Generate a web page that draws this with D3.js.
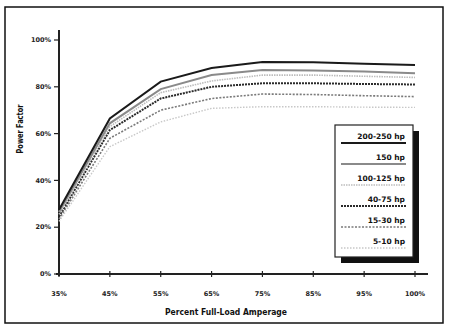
<!DOCTYPE html>
<html><head><meta charset="utf-8">
<script src="https://cdn.jsdelivr.net/npm/d3@7"></script>
<style>body{margin:0;background:#fff}svg{display:block}text{font-family:"DejaVu Sans",sans-serif}</style>
</head><body><svg id="c" width="450" height="330"></svg>
<script>
const categories = ["35%","45%","55%","65%","75%","85%","95%","100%"];
const yTicks = [0,20,40,60,80,100];
const seriesNames = ["200-250 hp","150 hp","100-125 hp","40-75 hp","15-30 hp","5-10 hp"];
const s200_250 = [27.5,66.5,82.2,88,90.6,90.5,89.8,89.3];
const s150     = [26.5,64.4,79,85,87.2,87,86.5,85.8];
const s100_125 = [25.5,63,77.5,82.5,85,85,84.5,84];
const s40_75   = [24.5,61.5,75,80,81.5,81.5,81.2,81];
const s15_30   = [23.5,58,70,75,76.9,76.7,76.2,75.8];
const s5_10    = [22.5,54.4,65,70.8,71.5,71.5,71.3,71.2];
const seriesValues = [s200_250,s150,s100_125,s40_75,s15_30,s5_10];
const styles = [
  {c:"#1a1a1a",w:2,d:null},
  {c:"#8a8a8a",w:2,d:null},
  {c:"#bdbdbd",w:1.6,d:"1.5,1"},
  {c:"#2a2a2a",w:2,d:"2,1"},
  {c:"#7a7a7a",w:1.6,d:"2,1.5"},
  {c:"#c8c8c8",w:1.4,d:"1.5,1.5"}
];
const svg = d3.select("#c");
svg.append("rect").attr("x",5).attr("y",7).attr("width",438).attr("height",316)
  .attr("fill","none").attr("stroke","#111").attr("stroke-width",1.5);
const x = d3.scalePoint().domain(categories).range([59,415]);
const y = d3.scaleLinear().domain([0,100]).range([274,40]);
// axes
svg.append("line").attr("x1",59).attr("x2",59).attr("y1",30).attr("y2",276).attr("stroke","#222").attr("stroke-width",2);
svg.append("line").attr("x1",56).attr("x2",428).attr("y1",274).attr("y2",274).attr("stroke","#222").attr("stroke-width",2);
const yAxis = svg.append("g");
yTicks.forEach(t=>{
  yAxis.append("line").attr("x1",54).attr("x2",59).attr("y1",y(t)).attr("y2",y(t)).attr("stroke","#222").attr("stroke-width",1.2);
  yAxis.append("text").attr("x",51).attr("y",y(t)).attr("dy","0.35em").attr("text-anchor","end")
    .attr("font-size",6.5).attr("font-weight","bold").attr("fill","#222").text(t+"%");
});
const xAxis = svg.append("g");
categories.forEach(c=>{
  xAxis.append("line").attr("x1",x(c)).attr("x2",x(c)).attr("y1",271).attr("y2",277).attr("stroke","#222").attr("stroke-width",1.2);
  xAxis.append("text").attr("x",x(c)).attr("y",294).attr("dy","0.35em").attr("text-anchor","middle")
    .attr("font-size",6.5).attr("font-weight","bold").attr("fill","#222").text(c);
});
svg.append("text").attr("x",226).attr("y",312).attr("dy","0.35em").attr("text-anchor","middle")
  .attr("font-size",9).attr("font-weight","bold").attr("fill","#111")
  .attr("textLength",122).attr("lengthAdjust","spacingAndGlyphs").text("Percent Full-Load Amperage");
svg.append("text").attr("transform","translate(20,129) rotate(-90)").attr("dy","0.35em").attr("text-anchor","middle")
  .attr("font-size",9).attr("font-weight","bold").attr("fill","#111")
  .attr("textLength",49).attr("lengthAdjust","spacingAndGlyphs").text("Power Factor");
// lines
const line = d3.line().x((d,i)=>x(categories[i])).y(d=>y(d));
for (let k=seriesValues.length-1;k>=0;k--){
  const s=styles[k];
  svg.append("path").datum(seriesValues[k]).attr("d",line).attr("fill","none")
    .attr("stroke",s.c).attr("stroke-width",s.w).attr("stroke-dasharray",s.d);
}
// legend
const lg = svg.append("g");
lg.append("rect").attr("x",341).attr("y",131).attr("width",78).attr("height",132).attr("fill","#111");
lg.append("rect").attr("x",335).attr("y",125).attr("width",78).attr("height",132).attr("fill","#fff").attr("stroke","#222").attr("stroke-width",1.2);
seriesNames.forEach((n,i)=>{
  const s=styles[i];
  const cy = 136 + i*21;
  lg.append("text").attr("x",405).attr("y",cy).attr("dy","0.35em").attr("text-anchor","end")
    .attr("font-size",7.5).attr("font-weight","bold").attr("fill","#111").text(n);
  lg.append("line").attr("x1",341).attr("x2",406).attr("y1",cy+7).attr("y2",cy+7)
    .attr("stroke",s.c).attr("stroke-width",s.w).attr("stroke-dasharray",s.d);
});
</script></body></html>
